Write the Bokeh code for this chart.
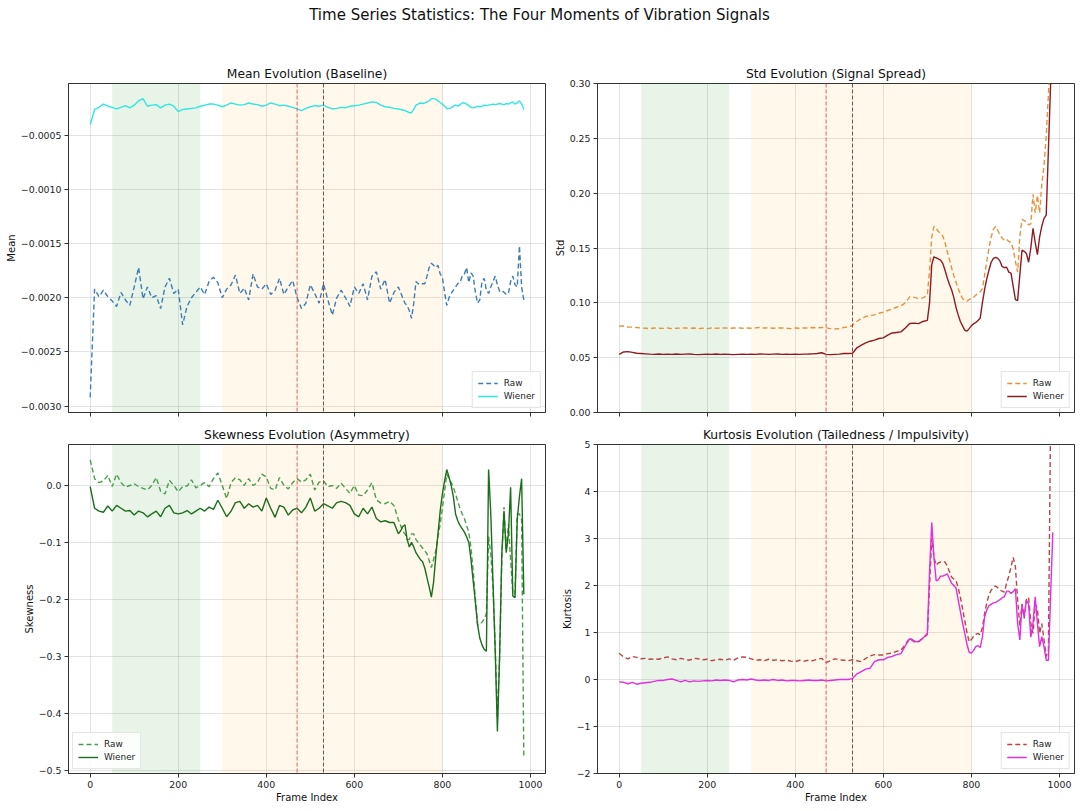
from bokeh.plotting import figure
from bokeh.layouts import column, gridplot
from bokeh.models import (Range1d, FixedTicker, CustomJSTickFormatter, BoxAnnotation,
                          Span, Legend, LegendItem)
from bokeh.embed import file_html
from bokeh.resources import INLINE
from bokeh.core.properties import value

FONT = "DejaVu Sans"

main_title = "Time Series Statistics: The Four Moments of Vibration Signals"
titles = ["Mean Evolution (Baseline)", "Std Evolution (Signal Spread)",
          "Skewness Evolution (Asymmetry)", "Kurtosis Evolution (Tailedness / Impulsivity)"]
ylabels = ["Mean", "Std", "Skewness", "Kurtosis"]
xlabel = "Frame Index"
series_names = ["Raw", "Wiener"]

# frame indices of the windows
frames = list(range(0, 701, 10)) + list(range(705, 986, 5))

mean_raw = [
    -0.00292, -0.00192, -0.00199, -0.00193, -0.00199, -0.00203, -0.00208, -0.00195, -0.00202, -0.00207,
    -0.00190, -0.00172, -0.00201, -0.00190, -0.00200, -0.00198, -0.00210, -0.00190, -0.00182, -0.00196,
    -0.00192, -0.00225, -0.00208, -0.00200, -0.00195, -0.00190, -0.00197, -0.00185, -0.00181, -0.00186,
    -0.00200, -0.00192, -0.00188, -0.00179, -0.00196, -0.00191, -0.00202, -0.00178, -0.00190, -0.00192,
    -0.00187, -0.00197, -0.00193, -0.00182, -0.00197, -0.00190, -0.00184, -0.00200, -0.00210, -0.00205,
    -0.00188, -0.00196, -0.00205, -0.00187, -0.00202, -0.00216, -0.00200, -0.00193, -0.00200, -0.00208,
    -0.00190, -0.00196, -0.00187, -0.00202, -0.00180, -0.00176, -0.00192, -0.00183, -0.00205, -0.00195,
    -0.00190,
    -0.00195, -0.00200, -0.00205, -0.00207, -0.00212, -0.00219, -0.00205, -0.00185, -0.00187, -0.00188,
    -0.00187, -0.00187, -0.00180, -0.00172, -0.00168, -0.00170, -0.00172, -0.00170, -0.00178, -0.00181,
    -0.00195, -0.00207, -0.00200, -0.00196, -0.00193, -0.00190, -0.00187, -0.00186, -0.00180, -0.00178,
    -0.00172, -0.00186, -0.00177, -0.00180, -0.00195, -0.00205, -0.00202, -0.00185, -0.00182, -0.00193,
    -0.00196, -0.00190, -0.00185, -0.00180, -0.00188, -0.00194, -0.00193, -0.00195, -0.00197, -0.00196,
    -0.00185, -0.00180, -0.00188, -0.00190, -0.00152, -0.00190, -0.00202,
]
mean_wiener = [
    -0.00040, -0.00026, -0.00024, -0.00021, -0.00023, -0.00024, -0.000255, -0.00024, -0.000225, -0.000245,
    -0.00022, -0.00018, -0.00016, -0.00023, -0.00022, -0.000215, -0.000245, -0.00022, -0.00021, -0.00023,
    -0.00028, -0.00026, -0.000255, -0.00025, -0.000245, -0.00023, -0.00022, -0.00021, -0.00021, -0.00022,
    -0.000235, -0.00022, -0.00020, -0.00021, -0.00022, -0.000215, -0.00020, -0.00021, -0.000215, -0.00023,
    -0.00022, -0.00020, -0.00021, -0.000225, -0.00022, -0.00023, -0.00024, -0.000255, -0.00027, -0.00025,
    -0.000235, -0.000225, -0.00023, -0.00022, -0.00024, -0.000255, -0.00025, -0.00024, -0.000245, -0.00023,
    -0.000225, -0.00022, -0.00021, -0.00020, -0.00019, -0.000195, -0.00022, -0.000235, -0.00024, -0.00025,
    -0.000255,
    -0.00026, -0.000265, -0.00027, -0.00028, -0.00029, -0.00029, -0.00026, -0.00022, -0.00021, -0.00020,
    -0.000205, -0.00020, -0.00019, -0.00018, -0.00016, -0.00016, -0.000165, -0.00018, -0.000195, -0.00021,
    -0.00023, -0.00025, -0.00025, -0.000245, -0.00023, -0.00022, -0.00023, -0.000215, -0.00020, -0.00020,
    -0.00021, -0.000225, -0.00024, -0.000245, -0.00024, -0.00023, -0.000235, -0.00023, -0.00022, -0.000225,
    -0.00022, -0.000215, -0.00021, -0.000215, -0.00021, -0.000205, -0.00021, -0.000215, -0.000205, -0.00021,
    -0.00020, -0.00019, -0.00021, -0.00020, -0.00018, -0.00021, -0.00026,
]
std_raw = [
    0.0786, 0.0790, 0.0780, 0.0778, 0.0775, 0.0770, 0.0768, 0.0765, 0.0770, 0.0768,
    0.0767, 0.0770, 0.0765, 0.0768, 0.0770, 0.0772, 0.0768, 0.0770, 0.0765, 0.0768,
    0.0765, 0.0770, 0.0768, 0.0770, 0.0772, 0.0768, 0.0770, 0.0772, 0.0768, 0.0770,
    0.0768, 0.0772, 0.0775, 0.0770, 0.0772, 0.0768, 0.0770, 0.0772, 0.0768, 0.0765,
    0.0770, 0.0768, 0.0772, 0.0770, 0.0775, 0.0772, 0.0775, 0.0772, 0.0765, 0.0762,
    0.0765, 0.0775, 0.0780, 0.0795, 0.0830, 0.0858, 0.0875, 0.0885, 0.0890, 0.0905,
    0.0915, 0.0930, 0.0945, 0.0960, 0.0972, 0.1000, 0.1055, 0.1050, 0.1040, 0.1045,
    0.1068,
    0.130, 0.160, 0.1697, 0.168, 0.165, 0.1635, 0.161, 0.155, 0.147, 0.140,
    0.132, 0.125, 0.119, 0.113, 0.108, 0.104, 0.102, 0.1015, 0.103, 0.104,
    0.105, 0.107, 0.109, 0.110, 0.113, 0.125, 0.138, 0.150, 0.160, 0.167,
    0.1697, 0.166, 0.162, 0.159, 0.157, 0.158, 0.156, 0.155, 0.149, 0.138,
    0.128, 0.160, 0.176, 0.175, 0.174, 0.171, 0.172, 0.199, 0.182, 0.198,
    0.182, 0.208, 0.225, 0.252, 0.290, 0.330, 0.370,
]
std_wiener = [
    0.0530, 0.0552, 0.0555, 0.0548, 0.0540, 0.0538, 0.0535, 0.0532, 0.0530, 0.0533,
    0.0530, 0.0532, 0.0530, 0.0533, 0.0530, 0.0532, 0.0533, 0.0530, 0.0528, 0.0530,
    0.0532, 0.0530, 0.0533, 0.0530, 0.0532, 0.0530, 0.0528, 0.0530, 0.0532, 0.0530,
    0.0532, 0.0530, 0.0533, 0.0532, 0.0530, 0.0532, 0.0533, 0.0530, 0.0532, 0.0530,
    0.0532, 0.0530, 0.0532, 0.0533, 0.0535, 0.0538, 0.0545, 0.0530, 0.0528, 0.0530,
    0.0532, 0.0538, 0.0538, 0.0540, 0.0590, 0.0615, 0.0635, 0.0650, 0.0660, 0.0675,
    0.0680, 0.0705, 0.0725, 0.0730, 0.0735, 0.0770, 0.0812, 0.0815, 0.0810, 0.0830,
    0.0840,
    0.100, 0.135, 0.142, 0.141, 0.140, 0.139, 0.136, 0.130, 0.123, 0.117,
    0.112, 0.105, 0.096, 0.089, 0.083, 0.079, 0.075, 0.0742, 0.0765, 0.0790,
    0.081, 0.082, 0.084, 0.086, 0.100, 0.112, 0.122, 0.130, 0.137, 0.1405,
    0.1415, 0.1405, 0.138, 0.133, 0.132, 0.1325, 0.128, 0.127, 0.115, 0.103,
    0.102, 0.125, 0.148, 0.147, 0.145, 0.137, 0.150, 0.168, 0.155, 0.144,
    0.160, 0.170, 0.177, 0.180, 0.240, 0.300, 0.340,
]
skew_raw = [
    0.045, 0.012, 0.005, 0.008, 0.018, -0.002, 0.020, 0.005, -0.003, 0.000,
    0.003, -0.002, -0.005, -0.008, 0.000, 0.014, -0.010, -0.015, 0.009, 0.000,
    -0.011, -0.002, -0.001, 0.010, -0.004, 0.000, 0.005, -0.002, 0.012, 0.022,
    0.000, -0.023, 0.005, 0.014, 0.010, 0.000, 0.012, 0.000, 0.005, 0.020,
    0.015, -0.005, -0.008, 0.014, 0.000, -0.006, 0.005, 0.012, 0.006, 0.010,
    0.020, -0.008, 0.006, 0.008, -0.002, 0.000, -0.005, 0.004, -0.005, -0.014,
    0.000, -0.017, -0.018, -0.008, 0.005, -0.025, -0.031, -0.032, -0.028, -0.035,
    -0.060,
    -0.070, -0.080, -0.085, -0.095, -0.095, -0.085, -0.085, -0.095, -0.100, -0.105,
    -0.110, -0.115, -0.120, -0.132, -0.144, -0.130, -0.115, -0.090, -0.068, -0.040,
    -0.010, 0.020, 0.012, 0.005, -0.003, -0.015, -0.028, -0.040, -0.050, -0.058,
    -0.070, -0.082, -0.110, -0.150, -0.200, -0.245, -0.245, -0.240, -0.235, -0.225,
    -0.090, -0.120, -0.180, -0.280, -0.410, -0.300, -0.130, -0.038, -0.115, -0.068,
    -0.130, -0.190, -0.190, -0.050, -0.050, -0.060, -0.479,
]
skew_wiener = [
    -0.002, -0.040, -0.045, -0.047, -0.036, -0.045, -0.035, -0.040, -0.045, -0.044,
    -0.052, -0.045, -0.048, -0.055, -0.050, -0.045, -0.055, -0.040, -0.035, -0.048,
    -0.050, -0.048, -0.044, -0.050, -0.045, -0.040, -0.045, -0.038, -0.042, -0.026,
    -0.040, -0.055, -0.045, -0.030, -0.028, -0.040, -0.032, -0.038, -0.035, -0.045,
    -0.022, -0.040, -0.056, -0.035, -0.038, -0.052, -0.043, -0.040, -0.048, -0.038,
    -0.022, -0.045, -0.040, -0.032, -0.036, -0.040, -0.030, -0.028, -0.030, -0.035,
    -0.050, -0.055, -0.040, -0.050, -0.038, -0.058, -0.064, -0.062, -0.065, -0.065,
    -0.085,
    -0.080, -0.072, -0.069, -0.095, -0.108, -0.100, -0.108, -0.118, -0.124, -0.130,
    -0.134, -0.145, -0.162, -0.178, -0.196, -0.170, -0.125, -0.085, -0.045, -0.015,
    0.008, 0.028, 0.015, 0.000, -0.020, -0.050, -0.062, -0.070, -0.076, -0.082,
    -0.090, -0.100, -0.130, -0.168, -0.205, -0.245, -0.268, -0.280, -0.288, -0.291,
    0.028, -0.050, -0.170, -0.290, -0.432, -0.300, -0.120, -0.045, -0.118, -0.085,
    -0.003, -0.194, -0.197, -0.060, -0.020, 0.012, -0.191,
]
kurt_raw = [
    0.56, 0.48, 0.44, 0.49, 0.47, 0.44, 0.45, 0.43, 0.44, 0.43,
    0.46, 0.48, 0.44, 0.42, 0.45, 0.43, 0.41, 0.45, 0.44, 0.42,
    0.43, 0.40, 0.42, 0.43, 0.41, 0.44, 0.41, 0.46, 0.48, 0.47,
    0.44, 0.41, 0.42, 0.40, 0.43, 0.41, 0.42, 0.40, 0.41, 0.39,
    0.38, 0.41, 0.39, 0.41, 0.40, 0.43, 0.45, 0.36, 0.40, 0.44,
    0.42, 0.41, 0.40, 0.42, 0.40, 0.38, 0.45, 0.50, 0.53, 0.52,
    0.52, 0.55, 0.56, 0.60, 0.62, 0.75, 0.88, 0.82, 0.80, 0.88,
    0.96,
    2.00, 3.00, 2.60, 2.43, 2.48, 2.50, 2.50, 2.50, 2.42, 2.30,
    2.18, 2.14, 2.11, 1.95, 1.75, 1.50, 1.25, 1.00, 0.80, 0.85,
    0.92, 0.96, 0.98, 0.95, 1.10, 1.40, 1.63, 1.80, 1.90, 1.96,
    1.99, 1.95, 1.90, 1.88, 1.86, 2.05, 2.20, 2.39, 2.60, 2.40,
    1.70, 1.15, 1.61, 1.30, 1.70, 1.75, 1.20, 0.98, 1.60, 1.50,
    0.98, 1.19, 0.84, 0.49, 0.63, 5.60, 6.50,
]
kurt_wiener = [
    -0.05, -0.06, -0.09, -0.06, -0.10, -0.08, -0.07, -0.06, -0.04, -0.02,
    -0.02, 0.00, 0.01, -0.02, -0.05, -0.02, -0.05, -0.03, -0.04, -0.03,
    -0.02, -0.03, -0.01, -0.02, -0.01, -0.02, -0.05, -0.01, 0.00, -0.01,
    0.01, -0.01, -0.02, -0.01, -0.02, 0.00, -0.02, -0.01, -0.03, -0.02,
    -0.02, -0.03, -0.02, -0.01, -0.02, -0.02, -0.01, -0.03, -0.02, -0.01,
    0.00, 0.00, 0.00, 0.02, 0.12, 0.17, 0.22, 0.24, 0.38, 0.42,
    0.42, 0.47, 0.49, 0.53, 0.55, 0.72, 0.87, 0.80, 0.81, 0.88,
    0.98,
    2.30, 3.34, 2.60, 2.10, 2.12, 2.20, 2.20, 2.22, 2.25, 2.15,
    2.05, 2.00, 1.95, 1.70, 1.45, 1.20, 0.98, 0.75, 0.58, 0.56,
    0.62, 0.70, 0.72, 0.68, 0.90, 1.33, 1.48, 1.57, 1.60, 1.63,
    1.64, 1.67, 1.70, 1.74, 1.76, 1.88, 1.88, 1.83, 1.87, 1.93,
    1.20, 0.84, 1.58, 1.33, 1.69, 1.61, 0.90, 1.20, 1.76, 1.20,
    0.70, 0.91, 0.70, 0.41, 0.41, 1.80, 3.13,
]

x_ticks = [0, 200, 400, 600, 800, 1000]
mean_ticks = [-0.0030, -0.0025, -0.0020, -0.0015, -0.0010, -0.0005]
std_ticks = [0.00, 0.05, 0.10, 0.15, 0.20, 0.25, 0.30]
skew_ticks = [-0.5, -0.4, -0.3, -0.2, -0.1, 0.0]
kurt_ticks = [-2, -1, 0, 1, 2, 3, 4, 5]

healthy_region = (50, 250)
degrading_region = (300, 800)
event_frames = [470, 530]


def fmt(dec):
    return CustomJSTickFormatter(code="return tick.toFixed(%d).replace('-', '\\u2212');" % dec)


def panel(title, ylabel, yr, yticks, ydec, raw, wiener, c_raw, c_wiener, leg_loc,
          width, height, b_left, b_right, b_top, b_bottom, show_x):
    p = figure(width=width, height=height, output_backend="svg", toolbar_location=None,
               x_range=Range1d(-49.25, 1034.25), y_range=Range1d(*yr),
               min_border_left=b_left, min_border_right=b_right,
               min_border_top=b_top, min_border_bottom=b_bottom)
    p.title.text = title
    p.title.align = "center"
    p.title.text_font = FONT
    p.title.text_font_size = "12.3px"
    p.title.text_font_style = "normal"
    p.title.text_color = "#111111"
    p.title.standoff = 6

    p.add_layout(BoxAnnotation(left=healthy_region[0], right=healthy_region[1],
                               fill_color="#008000", fill_alpha=0.09, line_color=None,
                               level="underlay"))
    p.add_layout(BoxAnnotation(left=degrading_region[0], right=degrading_region[1],
                               fill_color="#ffa500", fill_alpha=0.08, line_color=None,
                               level="underlay"))

    r1 = p.line(frames, raw, line_color=c_raw, line_width=1.4, line_dash="5 3")
    r2 = p.line(frames, wiener, line_color=c_wiener, line_width=1.4)

    p.add_layout(Span(location=event_frames[0], dimension="height", line_color="#e06060",
                      line_dash="4 2", line_width=1))
    p.add_layout(Span(location=event_frames[1], dimension="height", line_color="#8a4a4a",
                      line_dash="4 2", line_width=1))

    p.xaxis.ticker = FixedTicker(ticks=x_ticks)
    p.yaxis.ticker = FixedTicker(ticks=yticks)
    p.yaxis.formatter = fmt(ydec)
    p.xaxis.formatter = fmt(0)
    p.axis.minor_tick_line_color = None
    p.axis.major_tick_in = 0
    p.axis.major_tick_out = 4
    p.axis.major_tick_line_color = "#333333"
    p.axis.axis_line_color = "#333333"
    p.axis.major_label_text_font = FONT
    p.axis.major_label_text_font_size = "9.4px"
    p.axis.major_label_text_color = "#222222"
    p.axis.major_label_standoff = 3
    p.axis.axis_label_text_font = FONT
    p.axis.axis_label_text_font_size = "10px"
    p.axis.axis_label_text_font_style = "normal"
    p.axis.axis_label_text_color = "#111111"
    p.axis.axis_label_standoff = 1
    p.yaxis.axis_label = ylabel
    if show_x:
        p.xaxis.axis_label = xlabel
    else:
        # shared x axis: tick marks only, labels not drawn
        p.xaxis.major_label_text_color = None
        p.xaxis.major_label_text_font_size = "1px"
        p.xaxis.major_label_standoff = 0

    p.grid.grid_line_color = "#b0b0b0"
    p.grid.grid_line_alpha = 0.35
    p.outline_line_color = "#333333"
    p.outline_line_alpha = 1
    p.background_fill_color = "white"

    leg = Legend(items=[LegendItem(label=series_names[0], renderers=[r1]),
                        LegendItem(label=series_names[1], renderers=[r2])],
                 location=leg_loc)
    leg.label_text_font = FONT
    leg.label_text_font_size = "8.9px"
    leg.label_text_color = "#222222"
    leg.glyph_width = 20
    leg.glyph_height = 12
    leg.label_height = 12
    leg.label_standoff = 6
    leg.spacing = 1
    leg.padding = 5
    leg.margin = 4
    leg.border_line_color = "#cccccc"
    leg.border_line_width = 1
    leg.background_fill_alpha = 0.85
    p.add_layout(leg)
    return p


LW, RW = 549, 529
H1, H2 = 372, 383

p1 = panel(titles[0], ylabels[0], (-0.00306, -0.00002), mean_ticks, 4, mean_raw, mean_wiener,
           "#3d7db3", "#2ee8e0", "bottom_right", LW, H1, 68, 4, 33, 10, False)
p2 = panel(titles[1], ylabels[1], (0.0, 0.30), std_ticks, 2, std_raw, std_wiener,
           "#e8923a", "#8e1b22", "bottom_right", RW, H1, 48, 4, 33, 10, False)
p3 = panel(titles[2], ylabels[2], (-0.506, 0.072), skew_ticks, 1, skew_raw, skew_wiener,
           "#4a9e4a", "#1b6e1b", "bottom_left", LW, H2, 68, 4, 22, 31, True)
p4 = panel(titles[3], ylabels[3], (-2, 5), kurt_ticks, 0, kurt_raw, kurt_wiener,
           "#bb4444", "#e02ee0", "bottom_right", RW, H2, 48, 4, 22, 31, True)

tp = figure(width=LW + RW, height=50, output_backend="svg", toolbar_location=None,
            x_range=Range1d(0, 1), y_range=Range1d(0, 1), x_axis_type=None, y_axis_type=None,
            min_border_left=0, min_border_right=0, min_border_top=0, min_border_bottom=0)
tp.outline_line_color = None
tp.grid.visible = False
tp.text(x=[0.5], y=[0.72], text=[main_title], text_align="center", text_baseline="middle",
        text_font=value(FONT), text_font_size="15px", text_color="#111111")

grid = gridplot([[p1, p2], [p3, p4]], toolbar_location=None)
layout = column(tp, grid)

open("out.html", "w", encoding="utf-8").write(file_html(layout, INLINE, title="Four Moments"))
